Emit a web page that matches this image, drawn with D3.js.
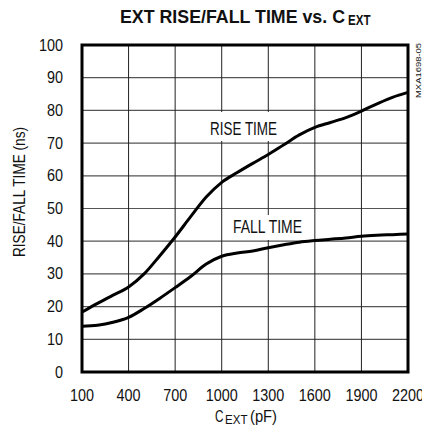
<!DOCTYPE html>
<html><head><meta charset="utf-8">
<script src="https://cdn.jsdelivr.net/npm/d3@7"></script>
<style>body{margin:0;background:#fff}svg{display:block}text{font-family:"Liberation Sans",Arial,sans-serif;fill:#111}</style>
</head><body><svg id="c" width="422" height="437"></svg>
<script>
const capX = [100,200,300,400,500,600,700,800,900,1000,1100,1200,1300,1400,1500,1600,1700,1800,1900,2000,2100,2200];
const riseTime = [18.3,21,23.5,26,30,35.5,41.3,47.5,53.5,58,61,63.8,66.5,69.5,72.5,74.8,76.3,77.8,79.8,82,84,85.5];
const fallTime = [14,14.3,15.2,16.7,19.4,22.5,25.8,29.2,33,35.4,36.4,37,38,38.9,39.7,40.2,40.6,41,41.5,41.8,42,42.2];
const xTicks = [100,400,700,1000,1300,1600,1900,2200];
const yTicks = [0,10,20,30,40,50,60,70,80,90,100];

const svg = d3.select("#c");
const L=82,R=408,T=45,B=372;
const x = d3.scaleLinear().domain([100,2200]).range([L,R]);
const y = d3.scaleLinear().domain([0,100]).range([B,T]);
const fit = (sel,w)=>sel.attr("textLength",w).attr("lengthAdjust","spacingAndGlyphs");

// grid
svg.append("g").selectAll("line").data(yTicks.slice(1,-1)).join("line")
  .attr("x1",L).attr("x2",R).attr("y1",d=>y(d)).attr("y2",d=>y(d))
  .attr("stroke","#555").attr("stroke-width",1.2);
svg.append("g").selectAll("line").data(xTicks.slice(1,-1)).join("line")
  .attr("y1",T).attr("y2",B).attr("x1",d=>x(d)).attr("x2",d=>x(d))
  .attr("stroke","#222").attr("stroke-width",1);

// label boxes
svg.append("rect").attr("x",207).attr("y",112).attr("width",75).attr("height",29).attr("fill","#fff");
svg.append("rect").attr("x",229).attr("y",215).attr("width",77).attr("height",25).attr("fill","#fff");
fit(svg.append("text").attr("x",210).attr("y",134.5).attr("font-size",18).text("RISE TIME"),67);
fit(svg.append("text").attr("x",233).attr("y",232.5).attr("font-size",18).text("FALL TIME"),69);

// curves
const line = d3.line().x((d,i)=>x(capX[i])).y(d=>y(d)).curve(d3.curveMonotoneX);
[riseTime,fallTime].forEach(s=>{
  svg.append("path").attr("d",line(s)).attr("fill","none").attr("stroke","#000").attr("stroke-width",3).attr("stroke-linejoin","round");
});

// frame
svg.append("rect").attr("x",L).attr("y",T).attr("width",R-L).attr("height",B-T)
  .attr("fill","none").attr("stroke","#000").attr("stroke-width",3);

// axes labels
svg.append("g").selectAll("text").data(yTicks).join("text")
  .attr("x",63).attr("y",d=>y(d)+5.5).attr("text-anchor","end").attr("font-size",16)
  .attr("textLength",d=>String(d).length*8).attr("lengthAdjust","spacingAndGlyphs").text(d=>d);
svg.append("g").selectAll("text").data(xTicks).join("text")
  .attr("x",d=>x(d)).attr("y",401).attr("text-anchor","middle").attr("font-size",16)
  .attr("textLength",d=>String(d).length*8).attr("lengthAdjust","spacingAndGlyphs").text(d=>d);

// x title
fit(svg.append("text").attr("x",215).attr("y",422).attr("font-size",16).text("C"),8.5);
fit(svg.append("text").attr("x",225).attr("y",424).attr("font-size",13).text("EXT"),22.5);
fit(svg.append("text").attr("x",250).attr("y",422).attr("font-size",16).text("(pF)"),27);

// y title
fit(svg.append("text").attr("transform","translate(25,192) rotate(-90)").attr("text-anchor","middle").attr("font-size",16).text("RISE/FALL TIME (ns)"),130);

// title
fit(svg.append("text").attr("x",120).attr("y",23).attr("font-size",18.5).attr("font-weight","bold").text("EXT RISE/FALL TIME vs. C"),225);
fit(svg.append("text").attr("x",348).attr("y",25).attr("font-size",15).attr("font-weight","bold").text("EXT"),22.5);

// side id
fit(svg.append("text").attr("transform","translate(421,43) rotate(-90)").attr("text-anchor","end").attr("font-size",8).text("MXA1698-05"),55);
</script></body></html>
